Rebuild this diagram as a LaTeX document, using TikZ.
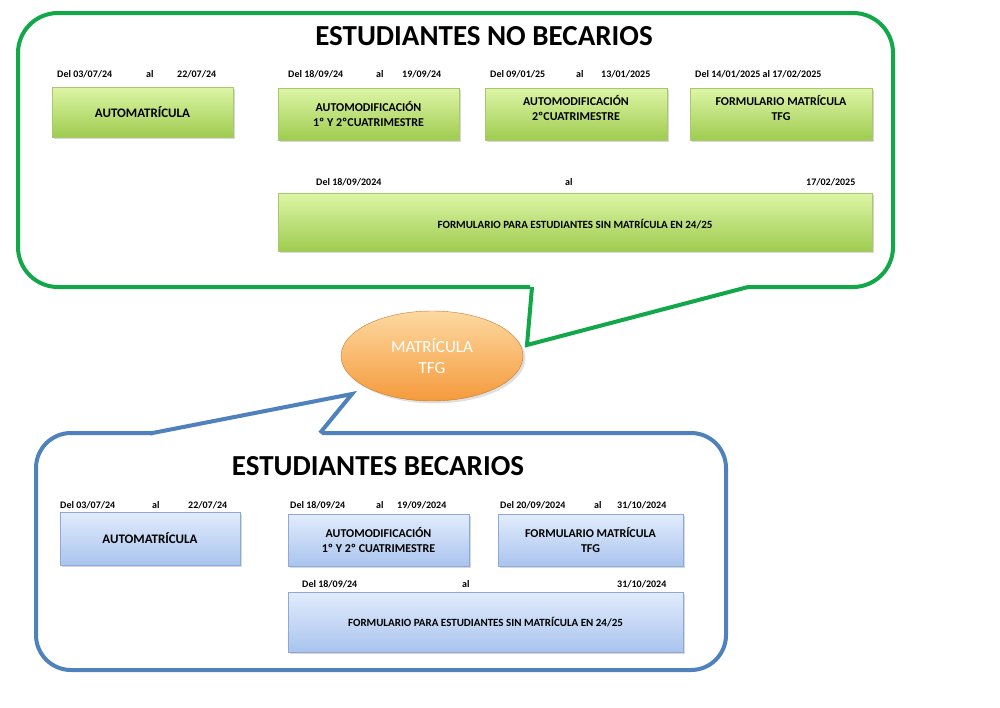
\documentclass[tikz,border=0pt]{standalone}
\usepackage{fontspec}
\setmainfont{Carlito}
\usetikzlibrary{shadows,shapes.geometric}
\definecolor{gtop}{HTML}{DDF5A6}
\definecolor{gbot}{HTML}{9FCC50}
\definecolor{gbrd}{HTML}{A8C870}
\definecolor{btop}{HTML}{E2ECFC}
\definecolor{bbot}{HTML}{A9C4EE}
\definecolor{bbrd}{HTML}{8EA9D8}
\definecolor{gline}{HTML}{12A84A}
\definecolor{bline}{HTML}{4F81BD}
\definecolor{otop}{HTML}{FDD9A0}
\definecolor{obot}{HTML}{F59A3C}
\tikzset{
 gbox/.style={draw=gbrd,top color=gtop,bottom color=gbot,align=center,font=\bfseries\fontsize{12}{15}\selectfont,drop shadow={opacity=0.3,shadow xshift=1.5pt,shadow yshift=-1.5pt}},
 bbox/.style={draw=bbrd,top color=btop,bottom color=bbot,align=center,font=\bfseries\fontsize{12}{15}\selectfont,drop shadow={opacity=0.3,shadow xshift=1.5pt,shadow yshift=-1.5pt}},
 lbl/.style={font=\bfseries\fontsize{10}{12}\selectfont,inner sep=0pt},
 ttl/.style={font=\bfseries\fontsize{29}{33}\selectfont,inner sep=0pt},
}
\newcommand{\boxat}[6]{\node[#1,minimum width=#4-#2,minimum height=#5-#3,inner sep=0pt] (#6) at ({(#2+#4)/2},{(#3+#5)/2}) {};}
\begin{document}
\begin{tikzpicture}[x=1pt,y=-1pt]
\useasboundingbox[fill=white] (0,0) rectangle (1000,707);
% green callout
\draw[gline,line width=4pt,rounded corners=40pt] (530,287) -- (18,287) -- (18,13) -- (893,13) -- (893,287) -- (747,287);
\draw[gline,line width=4pt,line join=miter] (532,287) -- (527,345) -- (748,287);
% blue callout
\draw[bline,line width=4pt,rounded corners=35pt] (152,433) -- (36,433) -- (36,670) -- (726,670) -- (726,433) -- (322,433);
\draw[bline,line width=4pt,line join=miter] (150,433.5) -- (352,394) -- (320,433);
% ellipse
\node[ellipse,draw=obot!80!black,top color=otop,bottom color=obot,minimum width=182pt,minimum height=90pt,align=center,text=white,font=\fontsize{17}{21}\selectfont,drop shadow={opacity=0.25}] (m) at (432,356) {MATRÍCULA\\TFG};
% titles
\node[ttl] (t1) at (484,36) {ESTUDIANTES NO BECARIOS};
\node[ttl] (t2) at (378,466) {ESTUDIANTES BECARIOS};
% green boxes
\boxat{gbox}{52}{87}{233}{137}{g1}
\node[font=\bfseries\fontsize{13}{16}\selectfont] at (g1) {AUTOMATRÍCULA};
\boxat{gbox}{278}{88}{459}{140}{g2}
\node[font=\bfseries\fontsize{12}{15}\selectfont,align=center] at (g2) {AUTOMODIFICACIÓN\\1º Y 2ºCUATRIMESTRE};
\boxat{gbox}{485}{88}{667}{140}{g3}
\node[font=\bfseries\fontsize{12}{15}\selectfont,align=center] at ([yshift=-3pt]g3) {AUTOMODIFICACIÓN\\2ºCUATRIMESTRE\\[4pt]};
\boxat{gbox}{690}{88}{872}{140}{g4}
\node[font=\bfseries\fontsize{12}{15}\selectfont,align=center] at ([yshift=-3pt]g4) {FORMULARIO MATRÍCULA\\TFG\\[4pt]};
\boxat{gbox}{278}{193}{872}{251}{g5}
\node[font=\bfseries\fontsize{11}{14}\selectfont] at ([yshift=-2pt]g5) {FORMULARIO PARA ESTUDIANTES SIN MATRÍCULA EN 24/25};
% green labels
\node[lbl,anchor=west] (l1a) at (57,74) {Del 03/07/24};
\node[lbl,anchor=west] (l1b) at (146,74) {al};
\node[lbl,anchor=west] (l1c) at (177,74) {22/07/24};
\node[lbl,anchor=west] (l2a) at (288,74) {Del 18/09/24};
\node[lbl,anchor=west] (l2b) at (376,74) {al};
\node[lbl,anchor=west] (l2c) at (402,74) {19/09/24};
\node[lbl,anchor=west] (l3a) at (490,74) {Del 09/01/25};
\node[lbl,anchor=west] (l3b) at (576,74) {al};
\node[lbl,anchor=west] (l3c) at (601,74) {13/01/2025};
\node[lbl,anchor=west] (l4a) at (695,74) {Del 14/01/2025 al 17/02/2025};
\node[lbl,anchor=west] (l5a) at (316,182) {Del 18/09/2024};
\node[lbl,anchor=west] (l5b) at (565,182) {al};
\node[lbl,anchor=west] (l5c) at (806,182) {17/02/2025};
% blue boxes
\boxat{bbox}{60}{512}{240}{565}{b1}
\node[font=\bfseries\fontsize{13}{16}\selectfont] at (b1) {AUTOMATRÍCULA};
\boxat{bbox}{288}{514}{469}{566}{b2}
\node[font=\bfseries\fontsize{12}{15}\selectfont,align=center] at (b2) {AUTOMODIFICACIÓN\\1º Y 2º CUATRIMESTRE};
\boxat{bbox}{498}{514}{683}{566}{b3}
\node[font=\bfseries\fontsize{12}{15}\selectfont,align=center] at (b3) {FORMULARIO MATRÍCULA\\TFG};
\boxat{bbox}{288}{592}{683}{652}{b4}
\node[font=\bfseries\fontsize{11}{14}\selectfont] at (b4) {FORMULARIO PARA ESTUDIANTES SIN MATRÍCULA EN 24/25};
% blue labels
\node[lbl,anchor=west] (m1a) at (60,505) {Del 03/07/24};
\node[lbl,anchor=west] (m1b) at (152,505) {al};
\node[lbl,anchor=west] (m1c) at (188,505) {22/07/24};
\node[lbl,anchor=west] (m2a) at (290,505) {Del 18/09/24};
\node[lbl,anchor=west] (m2b) at (376,505) {al};
\node[lbl,anchor=west] (m2c) at (397,505) {19/09/2024};
\node[lbl,anchor=west] (m3a) at (500,505) {Del 20/09/2024};
\node[lbl,anchor=west] (m3b) at (594,505) {al};
\node[lbl,anchor=west] (m3c) at (617,505) {31/10/2024};
\node[lbl,anchor=west] (m4a) at (302,584) {Del 18/09/24};
\node[lbl,anchor=west] (m4b) at (462,584) {al};
\node[lbl,anchor=west] (m4c) at (617,584) {31/10/2024};
\end{tikzpicture}
\end{document}
